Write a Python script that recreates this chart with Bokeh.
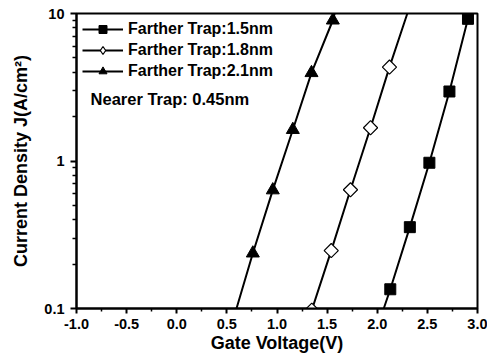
import math
from bokeh.plotting import figure
from bokeh.models import (Range1d, FixedTicker, NumeralTickFormatter, Legend,
                          LegendItem, Label)
from bokeh.embed import file_html
from bokeh.resources import INLINE

# ---- data ----
x_ticks = [-1.0, -0.5, 0.0, 0.5, 1.0, 1.5, 2.0, 2.5, 3.0]
x_minor_ticks = [-0.75, -0.25, 0.25, 0.75, 1.25, 1.75, 2.25, 2.75]
y_ticks = [0.1, 1, 10]
y_tick_labels = ["0.1", "1", "10"]
y_minor_ticks = [0.2, 0.3, 0.4, 0.5, 0.6, 0.7, 0.8, 0.9, 2, 3, 4, 5, 6, 7, 8, 9]

series_names = ["Farther Trap:1.5nm", "Farther Trap:1.8nm", "Farther Trap:2.1nm"]
annotation_text = "Nearer Trap: 0.45nm"

# Farther trap 1.5 nm (filled squares)
sq_v = [2.13, 2.325, 2.52, 2.72, 2.905]
sq_j = [0.135, 0.356, 0.973, 2.96, 9.2]
sq_line_v = [2.065, 2.13, 2.325, 2.52, 2.72, 2.905, 2.925]
sq_line_j = [0.1, 0.135, 0.356, 0.973, 2.96, 9.2, 10.0]

# Farther trap 1.8 nm (open diamonds)
di_v = [1.347, 1.541, 1.733, 1.933, 2.122]
di_j = [0.0975, 0.247, 0.638, 1.68, 4.33]
di_line_v = [1.347, 1.541, 1.733, 1.933, 2.122, 2.30]
di_line_j = [0.0975, 0.247, 0.638, 1.68, 4.33, 10.0]

# Farther trap 2.1 nm (filled triangles)
tr_v = [0.759, 0.958, 1.158, 1.344, 1.557]
tr_j = [0.237, 0.635, 1.63, 3.96, 9.0]
tr_line_v = [0.596, 0.759, 0.958, 1.158, 1.344, 1.557, 1.575]
tr_line_j = [0.1, 0.237, 0.635, 1.63, 3.96, 9.0, 10.0]

FONT = "Liberation Sans"

p = figure(x_range=Range1d(-1, 3), y_range=Range1d(0.1, 10), y_axis_type="log",
           frame_width=401, frame_height=295,
           min_border_left=76, min_border_right=10, min_border_top=13, min_border_bottom=10,
           output_backend="svg", toolbar_location=None, title=None,
           background_fill_color="white", border_fill_color="white")

p.xgrid.visible = False
p.ygrid.visible = False
p.outline_line_color = "black"
p.outline_line_width = 2
p.outline_line_alpha = 1

# lines
l1 = p.line(sq_line_v, sq_line_j, line_color="black", line_width=2)
l2 = p.line(di_line_v, di_line_j, line_color="black", line_width=2)
l3 = p.line(tr_line_v, tr_line_j, line_color="black", line_width=2)

# legend key for the diamonds (legend markers are drawn unrotated); it sits
# hidden underneath the rotated open squares drawn afterwards
s2_key = p.scatter(di_v, di_j, marker="diamond", size=10, fill_color="white",
                   line_color="black", line_width=1.2)

# markers
s1 = p.scatter(sq_v, sq_j, marker="square", size=11, fill_color="black", line_color="black")
s2 = p.scatter(di_v, di_j, marker="square", angle=math.pi / 4, size=10,
               fill_color="white", line_color="black", line_width=1.2)
s3 = p.scatter(tr_v, tr_j, marker="triangle", size=13, fill_color="black", line_color="black")

# axes
p.xaxis.ticker = FixedTicker(ticks=x_ticks, minor_ticks=x_minor_ticks)
p.xaxis.formatter = NumeralTickFormatter(format="0.0")
p.yaxis.ticker = FixedTicker(ticks=y_ticks, minor_ticks=y_minor_ticks)
p.yaxis.major_label_overrides = {t: l for t, l in zip(y_ticks, y_tick_labels)}

for ax in (p.xaxis[0], p.yaxis[0]):
    ax.axis_line_color = "black"
    ax.axis_line_width = 2
    ax.major_tick_line_color = "black"
    ax.major_tick_line_width = 2
    ax.minor_tick_line_color = "black"
    ax.minor_tick_line_width = 1.5
    ax.major_tick_in = 0
    ax.minor_tick_in = 0
    ax.major_label_text_font = FONT
    ax.major_label_text_font_style = "bold"
    ax.major_label_text_font_size = "14.5px"
    ax.major_label_text_color = "black"
    ax.axis_label_text_font = FONT
    ax.axis_label_text_font_style = "bold"
    ax.axis_label_text_color = "black"

p.xaxis.major_tick_out = 5
p.xaxis.minor_tick_out = 3
p.xaxis.major_label_standoff = 5
p.xaxis.axis_label = "Gate Voltage(V)"
p.xaxis.axis_label_text_font_size = "18px"
p.xaxis.axis_label_standoff = 1

p.yaxis.major_tick_out = 6
p.yaxis.minor_tick_out = 4
p.yaxis.major_label_standoff = 6
p.yaxis.axis_label = "Current Density J(A/cm\u00b2)"
p.yaxis.axis_label_text_font_size = "18px"
p.yaxis.axis_label_standoff = 10

legend = Legend(items=[LegendItem(label=series_names[0], renderers=[l1, s1]),
                       LegendItem(label=series_names[1], renderers=[l2, s2_key]),
                       LegendItem(label=series_names[2], renderers=[l3, s3])],
                location="top_left", margin=0, padding=6, spacing=1,
                glyph_width=41, glyph_height=20, label_height=20, label_standoff=5,
                label_text_font=FONT, label_text_font_style="bold",
                label_text_font_size="16px", label_text_color="black",
                label_text_line_height=1.0,
                background_fill_alpha=0, border_line_alpha=0)
p.add_layout(legend)

p.add_layout(Label(x=-0.86, y=2.65, text=annotation_text, text_baseline="middle",
                   text_font=FONT, text_font_style="bold", text_font_size="16.5px",
                   text_color="black"))

open("out.html", "w").write(file_html(p, INLINE))
